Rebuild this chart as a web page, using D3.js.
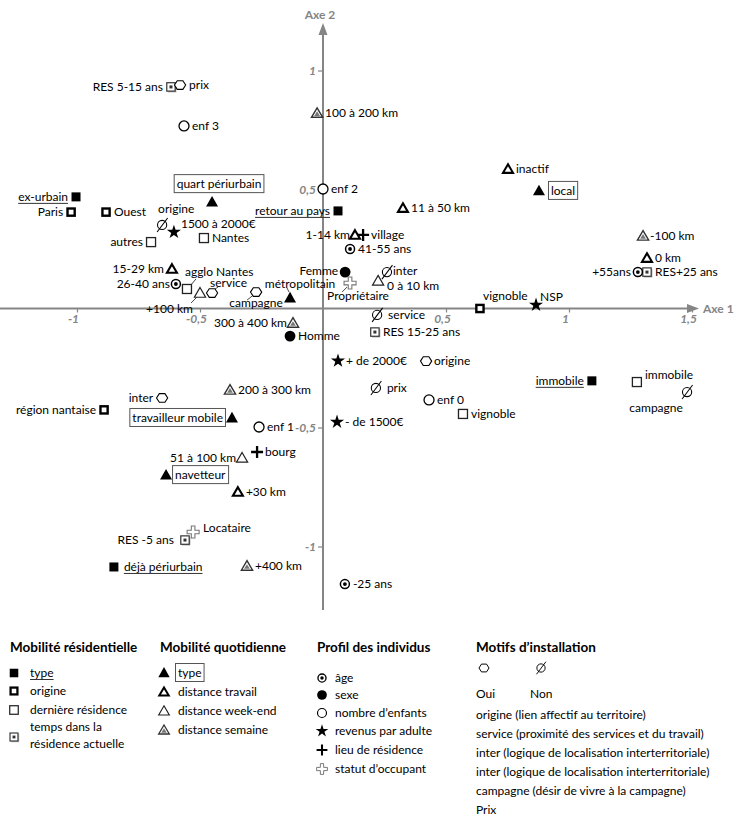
<!DOCTYPE html>
<html><head><meta charset="utf-8">
<script src="https://cdn.jsdelivr.net/npm/d3@7"></script>
<style>
body{margin:0;background:#fff}
text{font-family:Lato,"Noto Sans",sans-serif}
</style>
</head><body>
<svg id="c" width="735" height="826"></svg>
<script>
// ---------------- DATA (coordinates on factorial axes) ----------------
const xTicks = [-1, -0.5, 0.5, 1, 1.5];
const yTicks = [-1, -0.5, 0.5, 1];

const resType = [
  {label:"ex-urbain", x:-1.004, y:0.469},
  {label:"retour au pays", x:0.061, y:0.41},
  {label:"immobile", x:1.093, y:-0.304},
  {label:"déjà périurbain", x:-0.85, y:-1.086}
];
const resOrigine = [
  {label:"Paris", x:-1.024, y:0.405},
  {label:"Ouest", x:-0.882, y:0.405},
  {label:"région nantaise", x:-0.89, y:-0.426},
  {label:"vignoble", x:0.638, y:0.0}
];
const resDerniere = [
  {label:"autres", x:-0.699, y:0.279},
  {label:"Nantes", x:-0.484, y:0.296},
  {label:"agglo Nantes", x:-0.553, y:0.082},
  {label:"immobile", x:1.276, y:-0.309},
  {label:"vignoble", x:0.569, y:-0.443}
];
const resTemps = [
  {label:"RES 5-15 ans", x:-0.618, y:0.931},
  {label:"RES+25 ans", x:1.317, y:0.153},
  {label:"RES 15-25 ans", x:0.211, y:-0.099},
  {label:"RES -5 ans", x:-0.561, y:-0.973}
];
const quotType = [
  {label:"quart périurbain", x:-0.451, y:0.447},
  {label:"local", x:0.878, y:0.494},
  {label:"travailleur mobile", x:-0.37, y:-0.46},
  {label:"navetteur", x:-0.638, y:-0.70},
  {label:"métropolitain", x:-0.134, y:0.044}
];
const quotTravail = [
  {label:"inactif", x:0.752, y:0.586},
  {label:"11 à 50 km", x:0.325, y:0.422},
  {label:"1-14 km", x:0.13, y:0.309},
  {label:"15-29 km", x:-0.614, y:0.166},
  {label:"0 km", x:1.317, y:0.212},
  {label:"+30 km", x:-0.346, y:-0.771}
];
const quotWeekend = [
  {label:"0 à 10 km", x:0.224, y:0.116},
  {label:"+100 km", x:-0.5, y:0.065},
  {label:"51 à 100 km", x:-0.329, y:-0.628}
];
const quotSemaine = [
  {label:"100 à 200 km", x:-0.024, y:0.821},
  {label:"-100 km", x:1.301, y:0.305},
  {label:"300 à 400 km", x:-0.122, y:-0.061},
  {label:"200 à 300 km", x:-0.378, y:-0.342},
  {label:"+400 km", x:-0.309, y:-1.082}
];
const profAge = [
  {label:"41-55 ans", x:0.11, y:0.25},
  {label:"26-40 ans", x:-0.598, y:0.103},
  {label:"+55ans", x:1.28, y:0.153},
  {label:"-25 ans", x:0.089, y:-1.158}
];
const profSexe = [
  {label:"Femme", x:0.09, y:0.153},
  {label:"Homme", x:-0.134, y:-0.116}
];
const profEnfants = [
  {label:"enf 3", x:-0.565, y:0.767},
  {label:"enf 2", x:0.0, y:0.502},
  {label:"enf 1", x:-0.26, y:-0.498},
  {label:"enf 0", x:0.431, y:-0.384}
];
const profRevenus = [
  {label:"1500 à 2000€", x:-0.606, y:0.321},
  {label:"+ de 2000€", x:0.061, y:-0.22},
  {label:"- de 1500€", x:0.057, y:-0.477},
  {label:"NSP", x:0.866, y:0.015}
];
const profLieu = [
  {label:"village", x:0.163, y:0.309},
  {label:"bourg", x:-0.268, y:-0.603}
];
const profStatut = [
  {label:"Propriétaire", x:0.11, y:0.107},
  {label:"Locataire", x:-0.528, y:-0.939}
];
const motifOui = [
  {label:"prix", x:-0.581, y:0.939},
  {label:"service", x:-0.451, y:0.065},
  {label:"campagne", x:-0.272, y:0.069},
  {label:"inter", x:-0.654, y:-0.376},
  {label:"origine", x:0.419, y:-0.221}
];
const motifNon = [
  {label:"origine", x:-0.654, y:0.351},
  {label:"inter", x:0.26, y:0.153},
  {label:"service", x:0.22, y:-0.027},
  {label:"prix", x:0.215, y:-0.334},
  {label:"campagne", x:1.48, y:-0.351}
];

// legend texts
const legendTitles = ["Mobilité résidentielle","Mobilité quotidienne","Profil des individus","Motifs d’installation"];
const legendRes = ["type","origine","dernière résidence",["temps dans la","résidence actuelle"]];
const legendQuot = ["type","distance travail","distance week-end","distance semaine"];
const legendProf = ["âge","sexe","nombre d’enfants","revenus par adulte","lieu de résidence","statut d’occupant"];
const legendMotifs = ["origine (lien affectif au territoire)","service (proximité des services et du travail)",
  "inter (logique de localisation interterritoriale)","inter (logique de localisation interterritoriale)",
  "campagne (désir de vivre à la campagne)","Prix"];

// ---------------- LAYOUT / STYLE ----------------
const svg = d3.select("#c");
const x = d3.scaleLinear().domain([-1, 1.5]).range([77, 692]);
const y = d3.scaleLinear().domain([-1, 1]).range([546.5, 70.5]);
const AX = "#858585";
const FS = 12;

// label placement (pixel offsets), keyed by group|label
const place = {
  "resType|ex-urbain":"l","resType|retour au pays":"l","resType|immobile":"l",
  "resType|déjà périurbain":{dx:10,dy:4,a:"start"},
  "resOrigine|Paris":"l","resOrigine|Ouest":"r","resOrigine|région nantaise":"l",
  "resOrigine|vignoble":{dx:3,dy:-9,a:"start"},
  "resDerniere|autres":"l","resDerniere|Nantes":"r",
  "resDerniere|agglo Nantes":{dx:-2,dy:-13,a:"start",lead:[4,-4,9,-10]},
  "resDerniere|immobile":{dx:8,dy:-3,a:"start"},
  "resDerniere|vignoble":"r",
  "resTemps|RES 5-15 ans":"l","resTemps|RES+25 ans":"r","resTemps|RES 15-25 ans":"r",
  "resTemps|RES -5 ans":{dx:-11,dy:4,a:"end"},
  "quotType|quart périurbain":{dx:7,dy:-14,a:"middle"},
  "quotType|local":{dx:12,dy:4,a:"start"},
  "quotType|travailleur mobile":{dx:-9,dy:4,a:"end"},
  "quotType|navetteur":{dx:9,dy:4,a:"start"},
  "quotType|métropolitain":{dx:10,dy:-10,a:"middle",lead:[-1,-6,-3,-10],plain:true},
  "quotTravail|inactif":"r","quotTravail|11 à 50 km":"r",
  "quotTravail|1-14 km":{dx:-5,dy:4,a:"end"},
  "quotTravail|15-29 km":"l","quotTravail|0 km":"r","quotTravail|+30 km":"r",
  "quotWeekend|0 à 10 km":{dx:9,dy:9,a:"start"},
  "quotWeekend|+100 km":{dx:-7,dy:20,a:"end",lead:[-3,4,-9,10]},
  "quotWeekend|51 à 100 km":{dx:-6,dy:4,a:"end"},
  "quotSemaine|100 à 200 km":"r","quotSemaine|-100 km":{dx:7,dy:4,a:"start"},
  "quotSemaine|300 à 400 km":{dx:-6,dy:4,a:"end"},
  "quotSemaine|200 à 300 km":"r","quotSemaine|+400 km":"r",
  "profAge|41-55 ans":"r","profAge|26-40 ans":{dx:-6,dy:4,a:"end"},
  "profAge|+55ans":{dx:-7,dy:4,a:"end"},"profAge|-25 ans":"r",
  "profSexe|Femme":{dx:-7,dy:3,a:"end"},"profSexe|Homme":"r",
  "profEnfants|enf 3":"r","profEnfants|enf 2":"r","profEnfants|enf 1":"r","profEnfants|enf 0":"r",
  "profRevenus|1500 à 2000€":{dx:7,dy:-4,a:"start"},
  "profRevenus|+ de 2000€":"r","profRevenus|- de 1500€":"r",
  "profRevenus|NSP":{dx:4,dy:-4,a:"start"},
  "profLieu|village":"r","profLieu|bourg":"r",
  "profStatut|Propriétaire":{dx:-23,dy:17,a:"start",lead:[-3,4,-8,9]},
  "profStatut|Locataire":{dx:10,dy:0,a:"start"},
  "motifOui|prix":{dx:9,dy:4,a:"start"},
  "motifOui|service":{dx:-2,dy:-6,a:"start",lead:[3,-4,6,-6]},
  "motifOui|campagne":{dx:0,dy:15,a:"middle",lead:[-4,4,-9,8]},
  "motifOui|inter":{dx:-9,dy:4,a:"end"},
  "motifOui|origine":"r",
  "motifNon|origine":{dx:-4,dy:-12,a:"start"},
  "motifNon|inter":{dx:6,dy:3,a:"start"},
  "motifNon|service":{dx:11,dy:4,a:"start"},
  "motifNon|prix":{dx:11,dy:4,a:"start"},
  "motifNon|campagne":{dx:-31,dy:20,a:"middle"}
};

// ---------------- MARKERS ----------------
function marker(g, kind, cx, cy, s){
  s = s || 1;
  const t = g.append("g").attr("transform",`translate(${cx},${cy}) scale(${s})`);
  switch(kind){
    case "sqFill": t.append("rect").attr("x",-4.5).attr("y",-4.5).attr("width",9).attr("height",9).attr("fill","#000"); break;
    case "sqBold": t.append("rect").attr("x",-3.6).attr("y",-3.6).attr("width",7.2).attr("height",7.2)
        .attr("fill","#fff").attr("stroke","#000").attr("stroke-width",2.4); break;
    case "sqThin": t.append("rect").attr("x",-4.5).attr("y",-4.5).attr("width",9).attr("height",9)
        .attr("fill","#fff").attr("stroke","#222").attr("stroke-width",1.3); break;
    case "sqDot":
      t.append("rect").attr("x",-3).attr("y",-3).attr("width",8.5).attr("height",8.5).attr("fill","#bbb");
      t.append("rect").attr("x",-4.2).attr("y",-4.2).attr("width",8.4).attr("height",8.4)
        .attr("fill","#fff").attr("stroke","#333").attr("stroke-width",1.2);
      t.append("rect").attr("x",-1.5).attr("y",-1.5).attr("width",3).attr("height",3).attr("fill","#333"); break;
    case "triFill": t.append("path").attr("d","M0,-6.2L6,4.4L-6,4.4Z").attr("fill","#000"); break;
    case "triBold": t.append("path").attr("d","M0,-4.8L5,3.8L-5,3.8Z").attr("fill","#fff")
        .attr("stroke","#000").attr("stroke-width",2.1).attr("stroke-linejoin","miter"); break;
    case "triThin": t.append("path").attr("d","M0,-5.5L5.6,4.2L-5.6,4.2Z").attr("fill","#fff")
        .attr("stroke","#222").attr("stroke-width",1.2); break;
    case "triGrey":
      t.append("path").attr("d","M0,-5.3L5.6,4.2L-5.6,4.2Z").attr("fill","#fff")
        .attr("stroke","#333").attr("stroke-width",1.4);
      t.append("path").attr("d","M0,-1.8L2.9,2.8L-2.9,2.8Z").attr("fill","#777"); break;
    case "cirDot":
      t.append("circle").attr("r",4.5).attr("fill","#fff").attr("stroke","#000").attr("stroke-width",1.5);
      t.append("circle").attr("r",1.9).attr("fill","#000"); break;
    case "cirFill": t.append("circle").attr("r",5.4).attr("fill","#000"); break;
    case "cirOpen": t.append("circle").attr("r",5).attr("fill","#fff").attr("stroke","#000").attr("stroke-width",1.3); break;
    case "star": t.append("path").attr("d",d3.symbol(d3.symbolStar,62)()).attr("fill","#000"); break;
    case "plus": t.append("path").attr("d","M-6,0H6M0,-6V6").attr("stroke","#000").attr("stroke-width",2.3); break;
    case "plusOut": t.append("path").attr("d","M-1.8,-6H1.8V-1.8H6V1.8H1.8V6H-1.8V1.8H-6V-1.8H-1.8Z")
        .attr("fill","#fff").attr("stroke","#777").attr("stroke-width",1.1); break;
    case "hex": {
      const pts = d3.range(6).map(i=>{const a=i*Math.PI/3;return [5.6*Math.cos(a),5*Math.sin(a)];});
      t.append("path").attr("d","M"+pts.join("L")+"Z").attr("fill","#fff").attr("stroke","#000").attr("stroke-width",1.1); break;
    }
    case "non":
      t.append("circle").attr("r",4.6).attr("fill","none").attr("stroke","#000").attr("stroke-width",1.05);
      t.append("line").attr("x1",-5).attr("y1",7).attr("x2",5.5).attr("y2",-7).attr("stroke","#000").attr("stroke-width",1.05); break;
  }
}

// ---------------- AXES ----------------
const gAx = svg.append("g");
const y0 = y(0), x0 = x(0);
gAx.append("line").attr("x1",0).attr("x2",690).attr("y1",y0).attr("y2",y0).attr("stroke",AX).attr("stroke-width",2);
gAx.append("path").attr("d",`M699,${y0}L687,${y0-4.5}L687,${y0+4.5}Z`).attr("fill",AX);
gAx.append("text").attr("x",703).attr("y",y0+4.5).attr("font-size",12).attr("font-weight","bold").attr("fill",AX).text("Axe 1");
gAx.append("line").attr("x1",x0).attr("x2",x0).attr("y1",33).attr("y2",610).attr("stroke",AX).attr("stroke-width",2);
gAx.append("path").attr("d",`M${x0},23L${x0-4.5},35L${x0+4.5},35Z`).attr("fill",AX);
gAx.append("text").attr("x",x0-3).attr("y",19).attr("text-anchor","middle").attr("font-size",12).attr("font-weight","bold").attr("fill",AX).text("Axe 2");

const fmt = d => String(d).replace(".", ",");
const styleAxis = g => {
  g.select(".domain").remove();
  g.selectAll(".tick line").attr("stroke",AX).attr("stroke-width",1.2);
  g.selectAll(".tick text").attr("fill",AX).attr("font-style","italic").attr("font-weight","bold")
    .attr("font-size",12).attr("font-family","Lato, sans-serif");
};
svg.append("g").attr("transform",`translate(0,${y0})`)
  .call(d3.axisBottom(x).tickValues(xTicks).tickSize(4).tickPadding(2).tickFormat(fmt)).call(styleAxis)
  .selectAll(".tick text").attr("dx",-4);
svg.append("g").attr("transform",`translate(${x0},0)`)
  .call(d3.axisLeft(y).tickValues(yTicks).tickSize(5).tickPadding(2).tickFormat(fmt)).call(styleAxis);

// ---------------- POINTS ----------------
const groups = [
  ["resType", resType, "sqFill", "underline"],
  ["resOrigine", resOrigine, "sqBold"],
  ["resDerniere", resDerniere, "sqThin"],
  ["resTemps", resTemps, "sqDot"],
  ["quotType", quotType, "triFill", "box"],
  ["quotTravail", quotTravail, "triBold"],
  ["quotWeekend", quotWeekend, "triThin"],
  ["quotSemaine", quotSemaine, "triGrey"],
  ["profAge", profAge, "cirDot"],
  ["profSexe", profSexe, "cirFill"],
  ["profEnfants", profEnfants, "cirOpen"],
  ["profRevenus", profRevenus, "star"],
  ["profLieu", profLieu, "plus"],
  ["profStatut", profStatut, "plusOut"],
  ["motifOui", motifOui, "hex"],
  ["motifNon", motifNon, "non"]
];
const gLead = svg.append("g"), gMark = svg.append("g"), gLab = svg.append("g");

function deco(g, t, kind, baseY){
  const b = t.node().getBBox();
  if(kind==="underline"){
    g.append("line").attr("x1",b.x).attr("x2",b.x+b.width).attr("y1",baseY+2.5).attr("y2",baseY+2.5)
      .attr("stroke","#333").attr("stroke-width",1);
  } else if(kind==="box"){
    g.insert("rect", () => t.node()).attr("x",b.x-2.5).attr("y",b.y-1.5).attr("width",b.width+5).attr("height",b.height+3)
      .attr("fill","#fff").attr("stroke","#555").attr("stroke-width",1);
  }
}

groups.forEach(([key, data, kind, dec]) => {
  data.forEach(d => {
    const cx = x(d.x), cy = y(d.y);
    marker(gMark, kind, cx, cy);
    let p = place[key+"|"+d.label] || "r";
    if(p==="r") p = {dx:8,dy:4,a:"start"};
    if(p==="l") p = {dx:-8,dy:4,a:"end"};
    const t = gLab.append("text").attr("x",cx+p.dx).attr("y",cy+p.dy).attr("text-anchor",p.a)
      .attr("font-size",FS).attr("fill","#000").text(d.label);
    if(dec && !p.plain) deco(gLab, t, dec, cy+p.dy);
    if(p.lead) gLead.append("line").attr("x1",cx+p.lead[0]).attr("y1",cy+p.lead[1])
      .attr("x2",cx+p.lead[2]).attr("y2",cy+p.lead[3]).attr("stroke","#333").attr("stroke-width",0.9);
  });
});

// ---------------- LEGEND ----------------
const gL = svg.append("g");
const titleX = [10, 160, 317, 476];
legendTitles.forEach((t,i) => gL.append("text").attr("x",titleX[i]).attr("y",652)
  .attr("font-size",13.5).attr("font-weight","bold").text(t));

// column 1
const resKinds = ["sqFill","sqBold","sqThin","sqDot"];
const resY = [673, 691, 710, 737];
legendRes.forEach((lab,i) => {
  marker(gL, resKinds[i], 14, resY[i], 0.95);
  if(Array.isArray(lab)){
    gL.append("text").attr("x",30).attr("y",731).attr("font-size",FS).text(lab[0]);
    gL.append("text").attr("x",30).attr("y",748).attr("font-size",FS).text(lab[1]);
  } else {
    const t = gL.append("text").attr("x",30).attr("y",resY[i]+4).attr("font-size",FS).text(lab);
    if(i===0) deco(gL, t, "underline", resY[i]+4);
  }
});
// column 2
const quotKinds = ["triFill","triBold","triThin","triGrey"];
const quotY = [673, 692, 711, 730];
legendQuot.forEach((lab,i) => {
  marker(gL, quotKinds[i], 164, quotY[i], 0.95);
  const t = gL.append("text").attr("x",178).attr("y",quotY[i]+4).attr("font-size",FS).text(lab);
  if(i===0) deco(gL, t, "box", quotY[i]+4);
});
// column 3
const profKinds = ["cirDot","cirFill","cirOpen","star","plus","plusOut"];
const profY = [678, 695, 713, 731, 750, 769];
legendProf.forEach((lab,i) => {
  marker(gL, profKinds[i], 322, profY[i], 0.9);
  gL.append("text").attr("x",335).attr("y",profY[i]+4).attr("font-size",FS).text(lab);
});
// column 4
marker(gL, "hex", 484, 668, 0.9);
marker(gL, "non", 541, 668, 0.9);
gL.append("text").attr("x",476).attr("y",698).attr("font-size",FS).text("Oui");
gL.append("text").attr("x",530).attr("y",698).attr("font-size",FS).text("Non");
legendMotifs.forEach((lab,i) => gL.append("text").attr("x",476).attr("y",719+i*19).attr("font-size",FS).text(lab));
</script>
</body></html>
